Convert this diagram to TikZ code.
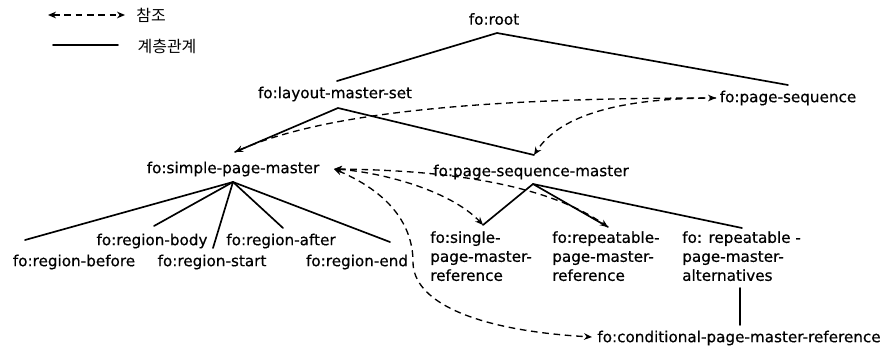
\documentclass[tikz,border=0pt]{standalone}
\usepackage{fontspec}
\setmainfont[FakeBold=0.5]{DejaVu Sans}
\newfontfamily\krfont{Noto Sans CJK KR}
\usetikzlibrary{arrows.meta}
\begin{document}
\begin{tikzpicture}[x=0.75pt,y=-0.75pt,
  lbl/.style={inner sep=0pt, font=\fontsize{11.4}{14.25}\selectfont},
  mlbl/.style={lbl, align=left, anchor=north west},
  krlbl/.style={inner sep=0pt, font=\krfont\fontsize{12}{14}\selectfont},
  tree/.style={line width=1.25pt, line cap=round},
  refline/.style={line width=1pt, dash pattern=on 5pt off 3.5pt,
    {Stealth[length=6pt,width=5pt]}-{Stealth[length=6pt,width=5pt]}},
  refone/.style={line width=1pt, dash pattern=on 5pt off 3.5pt,
    -{Stealth[length=6pt,width=5pt]}},
]
\fill[white] (0,0) rectangle (884,351);
\useasboundingbox (0,0) rectangle (884,351);

% legend
\coordinate (legA1) at (48,15);
\coordinate (legA2) at (125,15);
\coordinate (legB1) at (53,45);
\coordinate (legB2) at (118,45);
\node[krlbl] (legref) at (151,15) {참조};
\node[krlbl] (leghier) at (167,46) {계층관계};
\draw[refline] (legA1) -- (legA2);
\draw[tree] (legB1) -- (legB2);

% nodes
\node[lbl] (root) at (494,19) {fo:root};
\node[lbl] (lms) at (335,94) {fo:layout-master-set};
\node[lbl] (ps) at (788,98) {fo:page-sequence};
\node[lbl] (spm) at (233,169) {fo:simple-page-master};
\node[lbl] (psm) at (531,172) {fo:page-sequence-master};
\node[lbl] (rbefore) at (74,262) {fo:region-before};
\node[lbl] (rbody) at (152,241) {fo:region-body};
\node[lbl] (rstart) at (212,262) {fo:region-start};
\node[lbl] (rafter) at (281,241) {fo:region-after};
\node[lbl] (rend) at (357,262) {fo:region-end};
\node[mlbl] (sref) at (430,231) {fo:single-\\page-master-\\reference};
\node[mlbl] (rref) at (552,231) {fo:repeatable-\\page-master-\\reference};
\node[mlbl] (ralt) at (682,231) {fo: repeatable -\\page-master-\\alternatives};
\node[lbl] (cond) at (739,338) {fo:conditional-page-master-reference};

% connection points
\coordinate (rootA) at (497,33);
\coordinate (lmsT) at (337,81);
\coordinate (psT) at (788,85);
\coordinate (lmsA) at (338,108);
\coordinate (spmT) at (235,152);
\coordinate (psmT) at (534,155);
\coordinate (spmA) at (233,182);
\coordinate (psmA) at (533,184);
\coordinate (rbeforeT) at (25,240);
\coordinate (rbodyT) at (154,226);
\coordinate (rstartT) at (213,248);
\coordinate (rafterT) at (283,228);
\coordinate (rendT) at (390,242);
\coordinate (srefT) at (483,225);
\coordinate (rrefT) at (608,227);
\coordinate (raltT) at (742,228);
\coordinate (raltB) at (740,288);
\coordinate (condT) at (740,325);
\coordinate (spmR) at (334,169);
\coordinate (psW) at (716,98);
\coordinate (condW) at (592,337);

% hierarchy
\draw[tree] (lmsT) -- (rootA) -- (psT);
\draw[tree] (spmT) -- (lmsA) -- (psmT);
\draw[tree] (spmA) -- (rbeforeT);
\draw[tree] (spmA) -- (rbodyT);
\draw[tree] (spmA) -- (rstartT);
\draw[tree] (spmA) -- (rafterT);
\draw[tree] (spmA) -- (rendT);
\draw[tree] (psmA) -- (srefT);
\draw[tree] (psmA) -- (rrefT);
\draw[tree] (psmA) -- (raltT);
\draw[tree] (raltB) -- (condT);

% references
\draw[refline] (spmT) .. controls (330,110) and (500,98) .. (psW);
\draw[refone] (psW) .. controls (620,98) and (560,115) .. (psmT);
\draw[refline] (spmR) .. controls (380,172) and (450,190) .. (srefT);
\draw[refline] (spmR) .. controls (430,170) and (540,180) .. (rrefT);
\draw[refline] (spmR) .. controls (395,195) and (413,230) .. (413,262)
  .. controls (413,300) and (470,330) .. (condW);
\end{tikzpicture}
\end{document}
